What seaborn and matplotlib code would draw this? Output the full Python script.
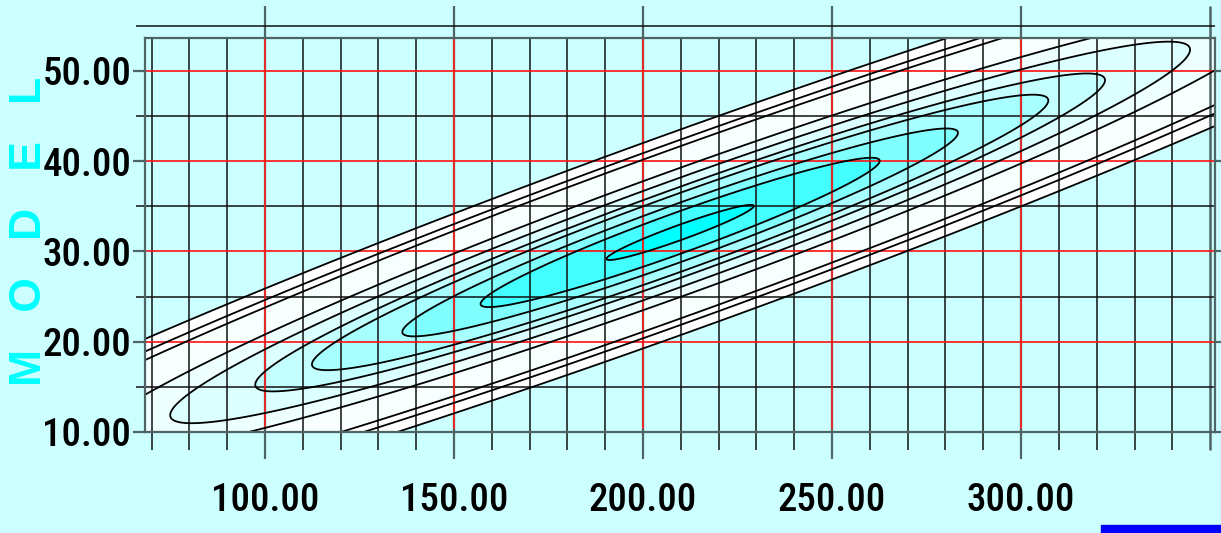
import os

import matplotlib
matplotlib.use("Agg")
import matplotlib.pyplot as plt
import numpy as np
import seaborn as sns
from matplotlib import font_manager as fm
from matplotlib.patches import Rectangle

# Bivariate normal density
CENTER_X = 209.8
CENTER_Y = 32.1
SLOPE = 0.15            # slope of the ellipse axis (y per x)
SPREAD_RATIO = 0.045    # residual spread of y relative to spread of x
SIGMA_X = 100.0

# half-widths along x of the ten contour lines, outermost first
CONTOUR_HALF_WIDTHS = [253.0, 228.0, 212.0, 159.0, 134.9, 112.4, 97.4, 73.5, 52.8, 19.5]
BAND_COLORS = ["#ffffff", "#ffffff", "#f8ffff", "#eeffff", "#dcffff",
               "#c4ffff", "#a8ffff", "#80ffff", "#44ffff", "#00ffff"]

X_TICKS = [100, 150, 200, 250, 300]
X_TICK_LABELS = ["100.00", "150.00", "200.00", "250.00", "300.00"]
X_MINOR = [70, 80, 90, 110, 120, 130, 140, 160, 170, 180, 190, 210, 220, 230, 240,
           260, 270, 280, 290, 310, 320, 330, 340]
X_EDGE_TICK = 350
Y_TICKS = [10, 20, 30, 40, 50]
Y_TICK_LABELS = ["10.00", "20.00", "30.00", "40.00", "50.00"]
Y_MINOR = [15, 25, 35, 45, 55]
Y_LABEL = "M   O   D   E   L"

XLIM = (68.25, 351.3)
YLIM = (10.33, 53.63)

BG = "#ccffff"
GRAY = "#4f6464"


def narrow_font() -> fm.FontProperties:
    """Pick the narrowest installed sans face for the tick labels."""
    wanted = ["NotoSans-ExtraCondensedMedium.", "NotoSans-ExtraCondensed.",
              "LiberationSansNarrow-Regular.", "NotoSans-CondensedMedium.",
              "RobotoCondensed-Medium.", "NotoSans-Condensed.",
              "RobotoCondensed-Regular.", "DejaVuSansCondensed."]
    files = [f.fname for f in fm.fontManager.ttflist]
    for key in wanted:
        for path in files:
            if os.path.basename(path).startswith(key):
                return fm.FontProperties(fname=path)
    return fm.FontProperties(family=["Liberation Sans", "DejaVu Sans"], stretch="condensed")


sns.set_theme(style="white")
plt.rcParams["font.family"] = ["Liberation Sans", "DejaVu Sans"]

fig = plt.figure(figsize=(12.21, 5.33), dpi=100, facecolor=BG)
ax = fig.add_axes([0.1188, 0.1895, 0.8763, 0.7392])
ax.set_facecolor(BG)

xs = np.linspace(55, 365, 1400)
ys = np.linspace(4, 62, 900)
X, Y = np.meshgrid(xs, ys)
dx = X - CENTER_X
dy = (Y - CENTER_Y - SLOPE * dx) / SPREAD_RATIO
Z = np.exp(-0.5 * (dx ** 2 + dy ** 2) / SIGMA_X ** 2)
levels = np.exp(-0.5 * (np.array(CONTOUR_HALF_WIDTHS) / SIGMA_X) ** 2)

ax.contourf(X, Y, Z, levels=list(levels) + [1.01], colors=BAND_COLORS, zorder=1)

# grid: black minor lines, red major lines, gray extended ticks
ax.vlines(X_MINOR, YLIM[0] - 2.3, YLIM[1], color="#111111", lw=1.1, zorder=2, clip_on=False)
ax.vlines(X_TICKS, YLIM[0] - 3.3, YLIM[1] + 3.5, color=GRAY, lw=1.6, zorder=2, clip_on=False)
ax.vlines(X_TICKS, YLIM[0], YLIM[1], color="#ff2020", lw=1.2, zorder=2.1)
ax.vlines([X_EDGE_TICK], YLIM[0] - 2.3, YLIM[1] + 3.5, color=GRAY, lw=1.8, zorder=2, clip_on=False)
ax.hlines(Y_MINOR, XLIM[0] - 2.4, XLIM[1], color="#111111", lw=1.1, zorder=2, clip_on=False)
ax.hlines(Y_TICKS, XLIM[0], XLIM[1], color="#ff1010", lw=1.2, zorder=2.1, clip_on=False)
ax.hlines(Y_TICKS, XLIM[0] - 3.2, XLIM[0], color=GRAY, lw=1.6, zorder=2, clip_on=False)
ax.hlines(Y_TICKS, XLIM[1], XLIM[1] + 1.6, color=GRAY, lw=1.6, zorder=2, clip_on=False)

ax.contour(X, Y, Z, levels=levels, colors="black", linewidths=1.3, zorder=3)

ax.set_xlim(*XLIM)
ax.set_ylim(*YLIM)
ax.set_xticks(X_TICKS, X_TICK_LABELS)
ax.set_yticks(Y_TICKS, Y_TICK_LABELS)
ax.tick_params(axis="x", length=0, pad=36)
ax.tick_params(axis="y", length=0, pad=10)
tick_font = narrow_font()
tick_font.set_size(28)
for lab in ax.get_xticklabels() + ax.get_yticklabels():
    lab.set_fontproperties(tick_font)
    lab.set_color("black")
ax.grid(False)
for spine in ax.spines.values():
    spine.set_color(GRAY)
    spine.set_linewidth(1.6)
    spine.set_zorder(4)

fig.text(30 / 1221, 1 - 231 / 533, Y_LABEL, rotation=90, color="#00ffff",
         fontsize=32, fontweight="bold", ha="center", va="center",
         family=["Liberation Sans", "DejaVu Sans"])

fig.patches.append(Rectangle((1101 / 1221, 0), 120 / 1221, 8 / 533,
                             transform=fig.transFigure, color="#0000ff"))

fig.savefig("out.png", dpi=100, facecolor=BG)
